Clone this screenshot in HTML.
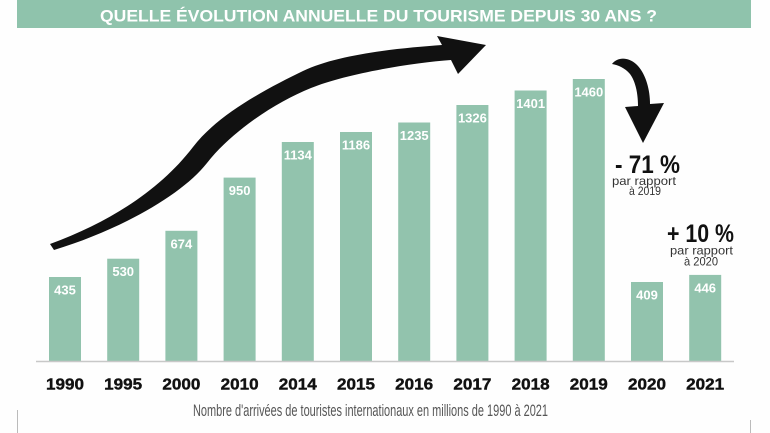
<!DOCTYPE html>
<html><head><meta charset="utf-8"><style>
html,body{margin:0;padding:0;background:#fff;}
svg{display:block;}
</style></head><body>
<svg width="770" height="433" viewBox="0 0 770 433" xmlns="http://www.w3.org/2000/svg">
<rect width="770" height="433" fill="#fefefe"/>
<rect x="17" y="0" width="734" height="28" fill="#8fc3ac"/>
<text x="100" y="21.5" font-family="Liberation Sans, sans-serif" font-weight="bold" font-size="17" fill="#fff" textLength="557" lengthAdjust="spacingAndGlyphs">QUELLE ÉVOLUTION ANNUELLE DU TOURISME DEPUIS 30 ANS ?</text>

<g fill="#92c3ad">
<rect x="49" y="277" width="32" height="84"/>
<rect x="107.2" y="258.7" width="32" height="102.3"/>
<rect x="165.4" y="230.8" width="32" height="130.2"/>
<rect x="223.6" y="177.6" width="32" height="183.4"/>
<rect x="281.8" y="142" width="32" height="219"/>
<rect x="340" y="132" width="32" height="229"/>
<rect x="398.2" y="122.5" width="32" height="238.5"/>
<rect x="456.4" y="105" width="32" height="256"/>
<rect x="514.6" y="90.5" width="32" height="270.5"/>
<rect x="572.8" y="79" width="32" height="282"/>
<rect x="631" y="282" width="32" height="79"/>
<rect x="689.2" y="274.9" width="32" height="86.1"/>
</g>
<line x1="36" y1="361.5" x2="734" y2="361.5" stroke="#c8c8c8" stroke-width="1.5"/>

<g font-family="Liberation Sans, sans-serif" font-weight="bold" font-size="13" fill="#fff" text-anchor="middle">
<text x="65" y="294.5">435</text>
<text x="123.2" y="276.2">530</text>
<text x="181.4" y="248.3">674</text>
<text x="239.6" y="195.1">950</text>
<text x="297.8" y="159.5">1134</text>
<text x="356" y="149.5">1186</text>
<text x="414.2" y="140">1235</text>
<text x="472.4" y="122.5">1326</text>
<text x="530.6" y="108">1401</text>
<text x="588.8" y="96.5">1460</text>
<text x="647" y="299.5">409</text>
<text x="705.2" y="292.4">446</text>
</g>

<g font-family="Liberation Sans, sans-serif" font-weight="bold" font-size="16" fill="#111" stroke="#111" stroke-width="0.4" text-anchor="middle">
<text x="65" y="389.5" textLength="38" lengthAdjust="spacingAndGlyphs">1990</text>
<text x="123.2" y="389.5" textLength="38" lengthAdjust="spacingAndGlyphs">1995</text>
<text x="181.4" y="389.5" textLength="38" lengthAdjust="spacingAndGlyphs">2000</text>
<text x="239.6" y="389.5" textLength="38" lengthAdjust="spacingAndGlyphs">2010</text>
<text x="297.8" y="389.5" textLength="38" lengthAdjust="spacingAndGlyphs">2014</text>
<text x="356" y="389.5" textLength="38" lengthAdjust="spacingAndGlyphs">2015</text>
<text x="414.2" y="389.5" textLength="38" lengthAdjust="spacingAndGlyphs">2016</text>
<text x="472.4" y="389.5" textLength="38" lengthAdjust="spacingAndGlyphs">2017</text>
<text x="530.6" y="389.5" textLength="38" lengthAdjust="spacingAndGlyphs">2018</text>
<text x="588.8" y="389.5" textLength="38" lengthAdjust="spacingAndGlyphs">2019</text>
<text x="647" y="389.5" textLength="38" lengthAdjust="spacingAndGlyphs">2020</text>
<text x="705.2" y="389.5" textLength="38" lengthAdjust="spacingAndGlyphs">2021</text>
</g>

<text x="193" y="416" font-family="Liberation Sans Narrow, Liberation Sans, sans-serif" font-size="17" fill="#555" textLength="355" lengthAdjust="spacingAndGlyphs">Nombre d'arrivées de touristes internationaux en millions de 1990 à 2021</text>

<!-- big rising arrow -->
<path fill="#111" d="M 50 244 C 110 222, 160 190, 193 147 C 218 114, 268 88, 303 71 C 338 54, 400 48, 442 45 L 437 36 L 486 45 L 458 74 L 451 60 C 410 63, 345 74, 311 88 C 276 102, 232 131, 207 163 C 182 195, 120 230, 54 250 Z"/>

<!-- down arrow -->
<path fill="#111" d="M 612 64 C 618 56, 630 57, 638 66 C 646 75, 650 90, 650 104 L 664 103 L 643 143 L 625 107 L 638 106 C 638 95, 636 82, 630 74 C 625 68, 618 65, 612 64 Z"/>

<g font-family="Liberation Sans, sans-serif" fill="#111">
<text x="615" y="173" font-weight="bold" font-size="25" textLength="65" lengthAdjust="spacingAndGlyphs">- 71 %</text>
<text x="612" y="185" font-size="12" fill="#333" textLength="64" lengthAdjust="spacingAndGlyphs">par rapport</text>
<text x="629" y="195" font-size="12" fill="#333" textLength="32" lengthAdjust="spacingAndGlyphs">à 2019</text>
<text x="667" y="242" font-weight="bold" font-size="25" textLength="67" lengthAdjust="spacingAndGlyphs">+ 10 %</text>
<text x="670" y="254.5" font-size="12" fill="#333" textLength="63" lengthAdjust="spacingAndGlyphs">par rapport</text>
<text x="684" y="265.5" font-size="12" fill="#333" textLength="34" lengthAdjust="spacingAndGlyphs">à 2020</text>
</g>

<line x1="17.5" y1="410" x2="17.5" y2="433" stroke="#bbb" stroke-width="1"/>
<line x1="750.5" y1="420" x2="750.5" y2="433" stroke="#bbb" stroke-width="1"/>
</svg>
</body></html>
